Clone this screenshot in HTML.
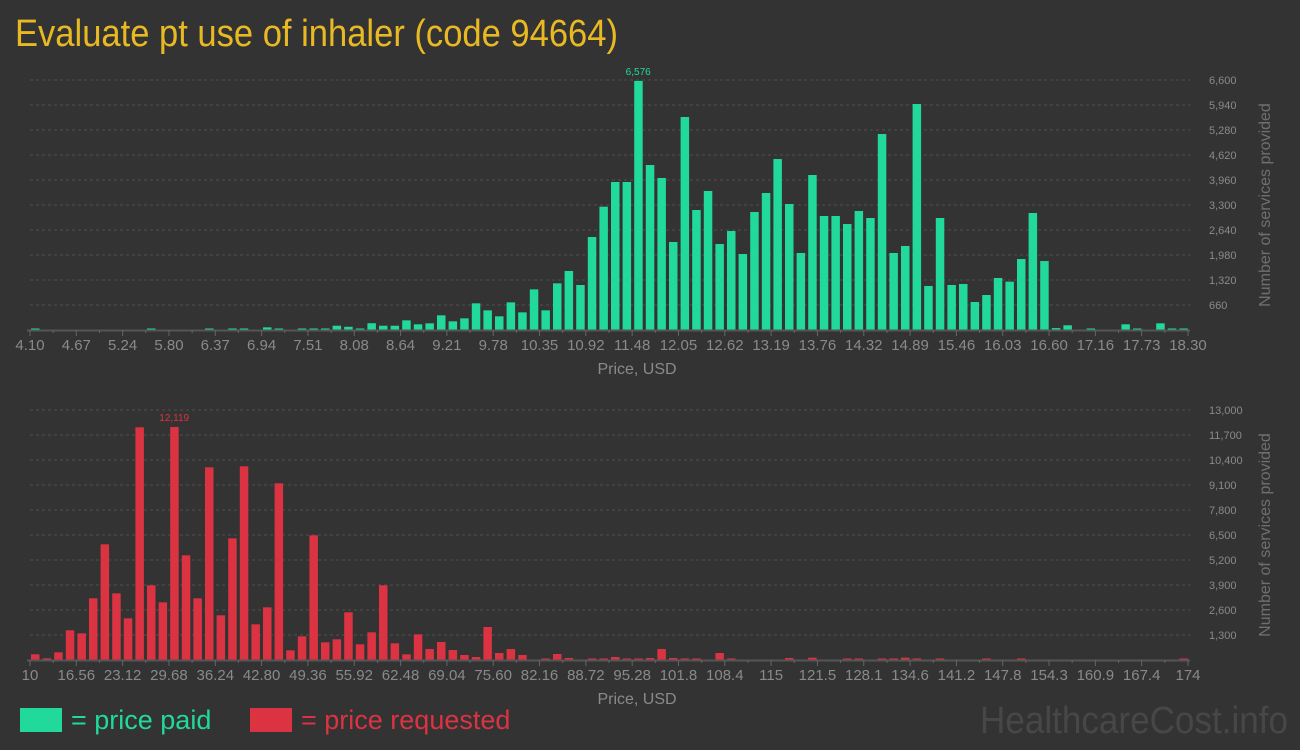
<!DOCTYPE html>
<html><head><meta charset="utf-8"><style>
html,body{margin:0;padding:0;background:#333333;}
svg{display:block;font-family:"Liberation Sans Narrow","Liberation Sans",sans-serif;}
</style></head><body>
<svg id="chart" width="1300" height="750" viewBox="0 0 1300 750">
<rect width="1300" height="750" fill="#333333"/>
<text x="15" y="46" font-size="38" fill="#e8b923" textLength="603" lengthAdjust="spacingAndGlyphs">Evaluate pt use of inhaler (code 94664)</text>
<g id="top"></g>
<g id="bot"></g>
<rect x="20" y="708" width="42" height="24" fill="#20d99b"/>
<text x="71" y="729" font-size="27" fill="#20d99b">= price paid</text>
<rect x="250" y="708" width="42" height="24" fill="#dc3342"/>
<text x="301" y="729" font-size="27" fill="#dc3342">= price requested</text>
<text x="1288" y="733" font-size="38" fill="#474747" text-anchor="end" textLength="308" lengthAdjust="spacingAndGlyphs">HealthcareCost.info</text>
</svg>
<script>
const topValues=[30,0,0,0,0,0,0,0,0,0,25,0,0,0,0,25,0,25,25,0,70,25,0,25,25,25,113,85,25,179,113,113,255,150,176,387,229,308,704,519,361,730,466,1073,519,1232,1558,1188,2455,3256,3907,3907,6576,4356,4013,2323,5623,3168,3670,2270,2614,2006,3115,3617,4514,3326,2033,4092,3010,3010,2798,3142,2957,5174,2033,2218,5966,1162,2957,1188,1214,739,924,1373,1276,1874,3089,1821,50,124,0,25,0,0,150,25,0,176,25,25];
const topTicks=["4.10","4.67","5.24","5.80","6.37","6.94","7.51","8.08","8.64","9.21","9.78","10.35","10.92","11.48","12.05","12.62","13.19","13.76","14.32","14.89","15.46","16.03","16.60","17.16","17.73","18.30"];
const topYTicks=[660,1320,1980,2640,3300,3960,4620,5280,5940,6600];
const botValues=[295,87,399,1543,1387,3207,6015,3467,2167,12099,3883,2999,12119,5443,3207,10019,2323,6327,10071,1855,2739,9187,503,1231,6483,919,1075,2479,815,1439,3883,867,295,1335,571,936,520,260,156,1716,364,571,260,0,20,312,104,0,52,20,156,52,20,104,571,104,20,52,0,364,52,0,0,0,0,104,0,121,0,0,20,70,0,20,20,121,70,0,20,0,0,0,20,0,0,20,0,0,0,0,0,0,0,0,0,0,0,0,0,20];
const botTicks=["10","16.56","23.12","29.68","36.24","42.80","49.36","55.92","62.48","69.04","75.60","82.16","88.72","95.28","101.8","108.4","115","121.5","128.1","134.6","141.2","147.8","154.3","160.9","167.4","174"];
const botYTicks=[1300,2600,3900,5200,6500,7800,9100,10400,11700,13000];
const NS="http://www.w3.org/2000/svg";
function mk(p,tag,a){const e=document.createElementNS(NS,tag);for(const k in a)e.setAttribute(k,a[k]);p.appendChild(e);return e;}
function draw(g,vals,ticks,yticks,base,maxV,color,prefix){
  const x0=30,x1=1188,step=11.6;
  const y=v=>base-v/maxV*250;
  const xBar=i=>31+i*step;
  yticks.forEach(t=>{
    const l=mk(g,'line',{x1:x0,x2:1190,y1:y(t),y2:y(t),stroke:'#4f4f4f','stroke-dasharray':'3,3'});
    
    
    const tx=mk(g,'text',{x:1209,y:y(t)+4,'font-size':11,fill:'#8a8a8a'});
    tx.textContent=t.toLocaleString('en-US');
    
    
  });
  let mi=0;vals.forEach((v,i)=>{if(v>vals[mi])mi=i;});
  vals.forEach((v,i)=>{
    if(v<=0)return;
    const h=Math.max(1.5,v/maxV*250);
    const r=mk(g,'rect',{x:xBar(i),y:base-h,width:8.5,height:h,fill:color});
    
    
  });
  const lab=mk(g,'text',{x:xBar(mi)+4,y:y(vals[mi])-6,'font-size':10,fill:color,'text-anchor':'middle'});
  lab.textContent=vals[mi].toLocaleString('en-US');
  
  
  const ax=mk(g,'line',{x1:27,x2:1190,y1:base+0.5,y2:base+0.5,stroke:'#555',"stroke-width":2});
  
  
  const ts=(x1-x0)/(ticks.length-1);
  for(let k=0;k<=(ticks.length-1)*2;k++){
    const tx=x0+k*ts/2;
    const t=mk(g,'line',{x1:tx,x2:tx,y1:base,y2:base+(k%2?3:6),stroke:'#666'});
    
    
  }
  ticks.forEach((s,k)=>{
    const t=mk(g,'text',{x:x0+k*ts,y:base+20,'font-size':15,fill:'#8a8a8a','text-anchor':'middle'});
    t.textContent=s;
    
    
  });
  const xt=mk(g,'text',{x:637,y:base+44,'font-size':16,fill:'#8a8a8a','text-anchor':'middle'});
  xt.textContent='Price, USD';
  
  
  const yt=mk(g,'text',{x:0,y:0,'font-size':16,fill:'#6f6f6f','text-anchor':'middle',transform:'translate(1270,'+(base-125)+') rotate(-90)'});
  yt.textContent='Number of services provided';
  
  
}
draw(document.getElementById('top'),topValues,topTicks,topYTicks,330,6600,'#20d99b','paid');
draw(document.getElementById('bot'),botValues,botTicks,botYTicks,660,13000,'#dc3342','requested');
</script>
</body></html>
